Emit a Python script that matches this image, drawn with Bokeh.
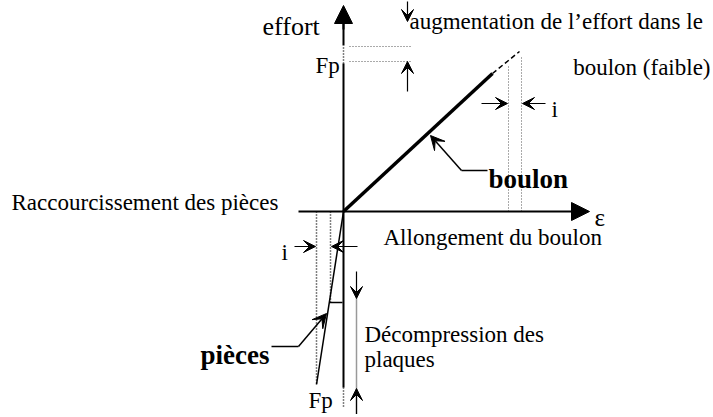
from bokeh.plotting import figure
from bokeh.models import Arrow, VeeHead, NormalHead, Range1d
from bokeh.core.properties import value
from bokeh.embed import file_html
from bokeh.resources import INLINE

# ---- diagram data (screen-like coordinates, y grows downward) ----
origin = (344, 212)
h_axis = [(299, 212), (590, 212)]
v_axis_top = (344, 6)
v_axis_bottom_solid = 388
v_axis_bottom_dotted = 408

bolt_line_x = [344, 493]
bolt_line_y = [212, 74]
bolt_dash_x = [493, 520]
bolt_dash_y = [74, 52]

pieces_line_x = [344, 317]
pieces_line_y = [212, 385]

fp_dot_y = [47, 62]
fp_dot_x = [350, 413]

bolt_i_x = [509, 522]
bolt_i_top = [65, 58]
pieces_i_x = [317, 331]
pieces_i_bottom = [385, 303]

labels_regular = [
    ("effort", 263, 27, "left", 26),
    ("Fp", 316, 66, "left", 23),
    ("augmentation de l\u2019effort dans le", 410, 22, "left", 23),
    ("boulon (faible)", 711, 68, "right", 23),
    ("i", 552, 110, "left", 23),
    ("Raccourcissement des pi\u00e8ces", 12, 203, "left", 23),
    ("Allongement du boulon", 384, 238, "left", 23),
    ("\u03b5", 595, 218, "left", 25),
    ("i", 282, 253, "left", 23),
    ("D\u00e9compression des", 365, 335, "left", 23),
    ("plaques", 365, 360, "left", 23),
    ("Fp", 309, 401, "left", 23),
]
labels_bold = [
    ("boulon", 489, 179, "left", 27),
    ("pi\u00e8ces", 201, 355, "left", 27),
]

X0, Y0 = 1, 1
W, H = 711, 414
p = figure(width=W, height=H, output_backend="svg", toolbar_location=None,
           x_range=Range1d(X0, X0 + W), y_range=Range1d(Y0 + H, Y0),
           min_border=0, outline_line_color=None)
p.axis.visible = False
p.grid.visible = False
p.background_fill_color = "white"

SERIF = value("'Liberation Serif', 'Times New Roman', serif")

# axes
p.add_layout(Arrow(end=NormalHead(size=18, fill_color="black", line_color="black"),
                   x_start=h_axis[0][0], y_start=h_axis[0][1],
                   x_end=h_axis[1][0], y_end=h_axis[1][1],
                   line_width=2, line_color="black"))
p.segment(x0=[344, 344], y0=[v_axis_bottom_solid, 46], x1=[344, 344], y1=[64, 24],
          line_width=2, line_color="black")
p.add_layout(Arrow(end=NormalHead(size=18, fill_color="black", line_color="black"),
                   x_start=344, y_start=30, x_end=v_axis_top[0], y_end=v_axis_top[1],
                   line_width=2, line_color="black"))
p.segment(x0=[344, 344], y0=[64, v_axis_bottom_solid], x1=[344, 344], y1=[46, v_axis_bottom_dotted],
          line_width=1.5, line_color="black", line_dash="1 2")

# bolt line
p.line(bolt_line_x, bolt_line_y, line_width=3.5, line_color="black")
p.line(bolt_dash_x, bolt_dash_y, line_width=1.5, line_color="black", line_dash="5 3")

# pieces line
p.line(pieces_line_x, pieces_line_y, line_width=1.5, line_color="black")
p.segment(x0=[330], y0=[303], x1=[343], y1=[303], line_width=1.5, line_color="black")

# dotted helper lines
p.segment(x0=[fp_dot_x[0]] * 2, y0=fp_dot_y, x1=[fp_dot_x[1]] * 2, y1=fp_dot_y,
          line_width=1, line_color="#555555", line_dash="1 2")
p.segment(x0=bolt_i_x, y0=[212, 212], x1=bolt_i_x, y1=bolt_i_top,
          line_width=1, line_color="#555555", line_dash="1 2")
p.segment(x0=pieces_i_x, y0=[212, 212], x1=pieces_i_x, y1=pieces_i_bottom,
          line_width=1.5, line_color="black", line_dash="1 2")

# gray decompression line
p.segment(x0=[357], y0=[298], x1=[357], y1=[415], line_width=1.5, line_color="#999999")


def arrow(x0, y0, x1, y1, size=12, lw=1.2):
    p.add_layout(Arrow(end=VeeHead(size=size, fill_color="black", line_color="black"),
                       x_start=x0, y_start=y0, x_end=x1, y_end=y1,
                       line_width=lw, line_color="black"))


arrow(408, 2, 408, 22)
arrow(408, 92, 408, 62)
arrow(482, 104, 508, 104)
arrow(546, 104, 523, 104)
arrow(295, 247, 316, 247)
arrow(358, 247, 332, 247)
arrow(357, 272, 357, 299)
arrow(357, 415, 357, 389)

# leaders
p.line([488, 462], [171, 171], line_width=1.5, line_color="black")
arrow(462, 171, 431, 136, size=14, lw=1.5)
p.line([272, 299], [347, 347], line_width=1.5, line_color="black")
arrow(299, 347, 327, 314, size=14, lw=1.5)

# texts
for t, x, y, al, fs in labels_regular:
    p.text(x=[x], y=[y], text=[t], text_font=SERIF, text_font_size=f"{fs}px",
           text_align=al, text_baseline="alphabetic", text_color="black")
for t, x, y, al, fs in labels_bold:
    p.text(x=[x], y=[y], text=[t], text_font=SERIF, text_font_size=f"{fs}px",
           text_font_style="bold", text_align=al, text_baseline="alphabetic",
           text_color="black")

open("out.html", "w").write(file_html(p, INLINE))
